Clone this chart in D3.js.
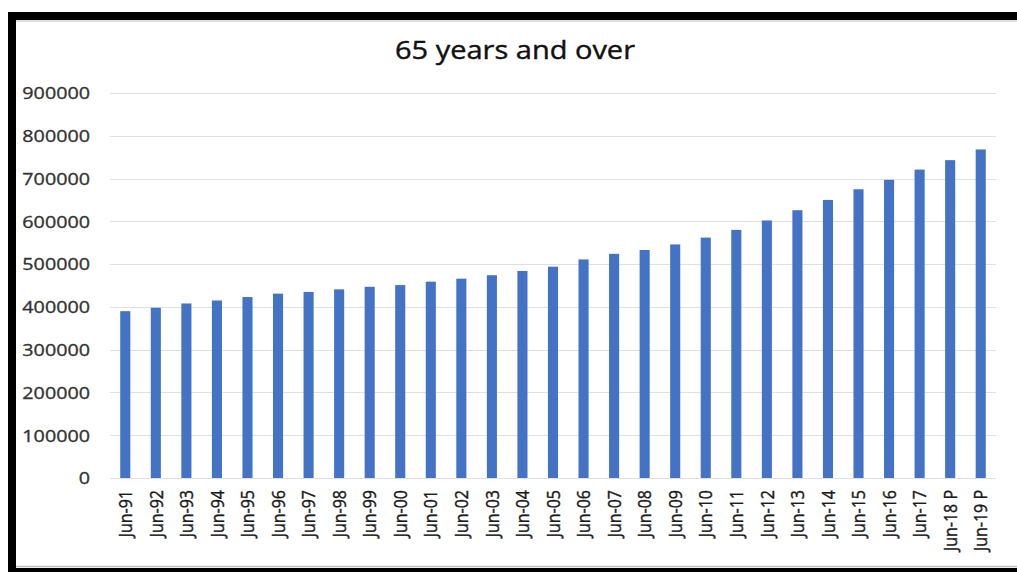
<!DOCTYPE html>
<html>
<head>
<meta charset="utf-8">
<script src="https://cdn.jsdelivr.net/npm/d3@7"></script>
<style>
  html, body { margin: 0; padding: 0; background: #fff; }
  svg { display: block; }
  text { font-family: "Open Sans", "DejaVu Sans", sans-serif; }
</style>
</head>
<body>
<svg id="chart" width="1017" height="572"></svg>
<script>
// Population aged 65 and over, June of each year (P = projected)
const categories = [
  "Jun-91", "Jun-92", "Jun-93", "Jun-94", "Jun-95", "Jun-96", "Jun-97", "Jun-98", "Jun-99",
  "Jun-00", "Jun-01", "Jun-02", "Jun-03", "Jun-04", "Jun-05", "Jun-06", "Jun-07", "Jun-08",
  "Jun-09", "Jun-10", "Jun-11", "Jun-12", "Jun-13", "Jun-14", "Jun-15", "Jun-16", "Jun-17",
  "Jun-18 P", "Jun-19 P"
];
const population = [
  390000, 398000, 408000, 415000, 423000, 431000, 435000, 441000, 447000,
  451000, 459000, 466000, 474000, 484000, 494000, 511000, 524000, 533000,
  546000, 562000, 580000, 602000, 626000, 650000, 675000, 697000, 721000,
  743000, 768000
];
const yTicks = [0, 100000, 200000, 300000, 400000, 500000, 600000, 700000, 800000, 900000];
const title = "65 years and over";

const svg = d3.select("#chart");
const W = 1017, H = 572;
const plot = { left: 110, right: 996, top: 93, bottom: 478 };
const stretch = 1.16; // horizontal widening of the lettering

// Frame around the chart
svg.append("rect").attr("x", 8).attr("y", 12).attr("width", W - 8).attr("height", 8).attr("fill", "#000");
svg.append("rect").attr("x", 8).attr("y", 12).attr("width", 8).attr("height", H - 12).attr("fill", "#000");
svg.append("line").attr("x1", 16).attr("x2", W).attr("y1", 21).attr("y2", 21).attr("stroke", "#bdbdbd").attr("stroke-width", 1);
svg.append("line").attr("x1", 16).attr("x2", W).attr("y1", 566.5).attr("y2", 566.5).attr("stroke", "#bdbdbd").attr("stroke-width", 1.5);
svg.append("rect").attr("x", 8).attr("y", 568).attr("width", W - 8).attr("height", 4).attr("fill", "#000");

const x = d3.scaleBand()
  .domain(categories)
  .range([plot.left, plot.right])
  .paddingInner(0.67)
  .paddingOuter(0.335);

const y = d3.scaleLinear()
  .domain([0, 900000])
  .range([plot.bottom, plot.top]);

// Horizontal gridlines
svg.append("g")
  .selectAll("line")
  .data(yTicks)
  .join("line")
  .attr("x1", plot.left)
  .attr("x2", plot.right)
  .attr("y1", d => Math.round(y(d)) + 0.5)
  .attr("y2", d => Math.round(y(d)) + 0.5)
  .attr("stroke", "#e0e0e0")
  .attr("stroke-width", 1.2);

// Y axis labels
const yAxis = d3.axisLeft(y).tickValues(yTicks).tickSize(0).tickPadding(0).tickFormat(d3.format("d"));
const yg = svg.append("g").attr("transform", "translate(90,0)").call(yAxis);
yg.select(".domain").remove();
yg.selectAll("text")
  .attr("fill", "#333")
  .attr("stroke", "#333")
  .attr("stroke-width", 0.35)
  .attr("font-size", 17)
  .attr("x", 0)
  .attr("dy", "0.34em")
  .attr("transform", `scale(${stretch},1)`);

// Bars
svg.append("g")
  .selectAll("rect")
  .data(population)
  .join("rect")
  .attr("x", (d, i) => x(categories[i]))
  .attr("width", x.bandwidth())
  .attr("y", d => y(d))
  .attr("height", d => y(0) - y(d))
  .attr("fill", "#4472c4");

// Category labels, rotated
const xAxis = d3.axisBottom(x).tickSize(0).tickPadding(0);
const xg = svg.append("g").attr("transform", `translate(0,${plot.bottom})`).call(xAxis);
xg.select(".domain").remove();
xg.selectAll("text")
  .attr("fill", "#1a1a1a")
  .attr("stroke", "#1a1a1a")
  .attr("stroke-width", 0.35)
  .attr("font-size", 16)
  .attr("text-anchor", "end")
  .attr("transform", `rotate(-90) scale(1,${stretch})`)
  .attr("x", -12)
  .attr("y", 0)
  .attr("dy", "0.36em");

// Title
svg.append("text")
  .attr("transform", `translate(515,59) scale(${stretch},1)`)
  .attr("text-anchor", "middle")
  .attr("font-size", 25)
  .attr("fill", "#111")
  .attr("stroke", "#111")
  .attr("stroke-width", 0.4)
  .text(title);
</script>
</body>
</html>
